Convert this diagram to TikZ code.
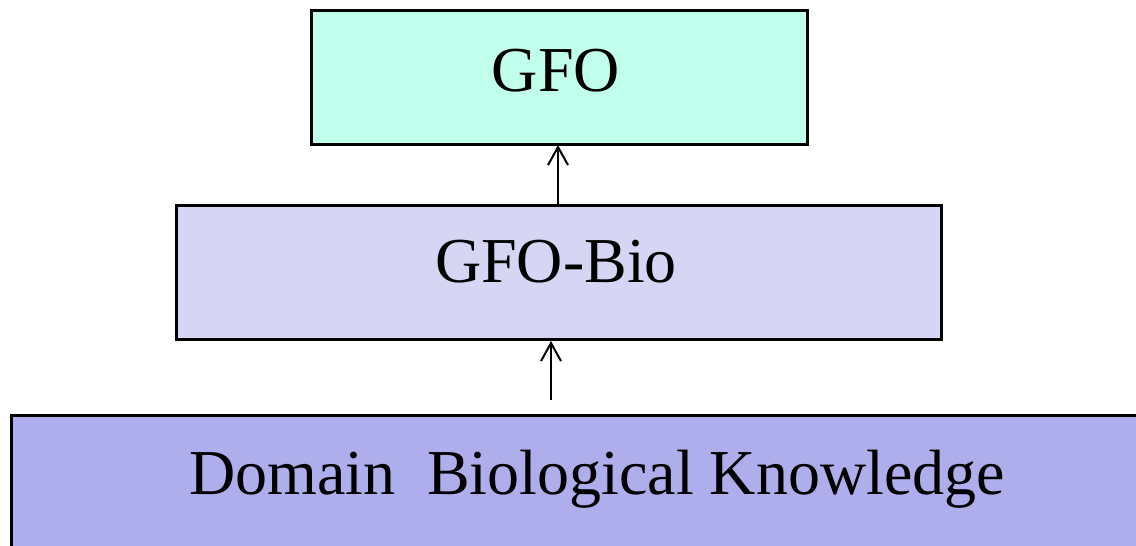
\documentclass[tikz,border=0pt]{standalone}
\usepackage{fontspec}
\setmainfont{Liberation Serif}
\usetikzlibrary{arrows.meta}
\definecolor{gfoc}{RGB}{192,255,236}
\definecolor{bioc}{RGB}{214,214,244}
\definecolor{domc}{RGB}{174,174,236}
\begin{document}
\begin{tikzpicture}[x=1pt,y=-1pt,
  layer/.style={draw=black,line width=3pt,inner sep=0pt},
  lbl/.style={font=\fontsize{64}{70}\selectfont,anchor=base,inner sep=0pt},
  conn/.style={line width=2pt,-{Straight Barb[length=18pt,width=20pt,line width=2pt]}}]
\useasboundingbox (0,0) rectangle (1136,546);
\begin{scope}
\clip (0,0) rectangle (1136,546);
\filldraw[fill=gfoc,layer] (311,10) rectangle (807,144);
\filldraw[fill=bioc,layer] (176,205) rectangle (941,339);
\filldraw[fill=domc,layer] (11,415) rectangle (1150,560);
\end{scope}
\node[lbl] (gfo) at (556,91) {GFO};
\node[lbl] (bio) at (556,282) {GFO-Bio};
\node[lbl] (dom) at (597,494) {Domain\ \ Biological Knowledge};
\coordinate (gfoB) at (558,145);
\coordinate (bioT) at (558,204);
\coordinate (bioB) at (551,341);
\coordinate (domT) at (551,400);
\draw[conn] (bioT) -- (gfoB);
\draw[conn] (domT) -- (bioB);
\end{tikzpicture}
\end{document}
